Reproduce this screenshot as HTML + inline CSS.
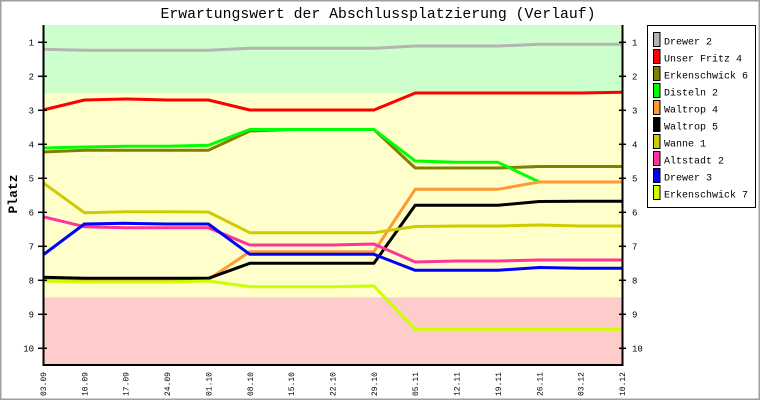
<!DOCTYPE html>
<html><head><meta charset="utf-8"><style>
html,body{margin:0;padding:0;background:#fff;}
svg{display:block;}
text{font-family:"Liberation Mono","DejaVu Sans Mono",monospace;fill:#000;}
</style></head><body>
<svg width="760" height="400" viewBox="0 0 760 400" xmlns="http://www.w3.org/2000/svg">
<rect x="0" y="0" width="760" height="400" fill="#fff"/>
<rect x="0.75" y="0.75" width="758.5" height="398.5" fill="none" stroke="#a0a0a0" stroke-width="1.5"/>
<!-- bands -->
<rect x="43" y="25" width="579" height="68.3" fill="#ccffcc"/>
<rect x="43" y="93.3" width="579" height="204" fill="#ffffcc"/>
<rect x="43" y="297.3" width="579" height="68" fill="#ffcccc"/>
<!-- title -->
<text x="378" y="18" font-size="14.8" text-anchor="middle">Erwartungswert der Abschlussplatzierung (Verlauf)</text>
<!-- series -->
<g fill="none" stroke-width="3" stroke-linejoin="round">
<polyline stroke="#b4b4b4" points="43,49.3 84.4,50.3 125.7,50.3 167.1,50.3 208.4,50.3 249.8,48.3 291.1,48.3 332.5,48.3 373.9,48.3 415.2,46 456.6,46 497.9,46 539.3,44.3 580.6,44.3 622,44.3"/>
<polyline stroke="#ff0000" points="43,110 84.4,100 125.7,99 167.1,100 208.4,100 249.8,110 291.1,110 332.5,110 373.9,110 415.2,93 456.6,93 497.9,93 539.3,93 580.6,93 622,92.3"/>
<polyline stroke="#808000" points="43,152 84.4,150.3 125.7,150.3 167.1,150.3 208.4,150.3 249.8,131 291.1,129.5 332.5,129.5 373.9,129.5 415.2,168 456.6,168 497.9,168 539.3,166.5 580.6,166.5 622,166.5"/>
<polyline stroke="#00ff00" points="43,148 84.4,147 125.7,146.3 167.1,146.3 208.4,145.3 249.8,129.5 291.1,129.5 332.5,129.5 373.9,129.5 415.2,161 456.6,162.3 497.9,162.3 539.3,182 580.6,182 622,182"/>
<polyline stroke="#ff9933" points="43,279.5 84.4,279.5 125.7,279.5 167.1,279.5 208.4,279.5 249.8,251.7 291.1,251.7 332.5,251.7 373.9,251.7 415.2,189.3 456.6,189.3 497.9,189.3 539.3,182 580.6,182 622,182"/>
<polyline stroke="#000000" points="43,277.3 84.4,278.3 125.7,278.3 167.1,278.3 208.4,278.3 249.8,263.3 291.1,263.3 332.5,263.3 373.9,263.3 415.2,205.3 456.6,205.3 497.9,205.3 539.3,201.5 580.6,201.3 622,201.3"/>
<polyline stroke="#cccc00" points="43,182.7 84.4,212.7 125.7,211.7 167.1,211.7 208.4,212 249.8,232.7 291.1,232.7 332.5,232.7 373.9,232.7 415.2,226.5 456.6,226 497.9,226 539.3,225 580.6,226 622,226"/>
<polyline stroke="#ff3399" points="43,216.7 84.4,226.7 125.7,227.7 167.1,227.7 208.4,227.7 249.8,245 291.1,245 332.5,245 373.9,244 415.2,262 456.6,261 497.9,261 539.3,260 580.6,260 622,260"/>
<polyline stroke="#0000ff" points="43,255 84.4,224 125.7,223.3 167.1,224 208.4,224 249.8,254.3 291.1,254.3 332.5,254.3 373.9,254.3 415.2,270.3 456.6,270.3 497.9,270.3 539.3,267.5 580.6,268.3 622,268.3"/>
<polyline stroke="#ccff00" points="43,281 84.4,282 125.7,282 167.1,282 208.4,281 249.8,286.7 291.1,286.7 332.5,286.7 373.9,286 415.2,329.3 456.6,329.3 497.9,329.3 539.3,329.3 580.6,329.3 622,329.3"/>
</g>
<!-- axes -->
<g stroke="#000" fill="none">
<line x1="43.5" y1="25" x2="43.5" y2="366" stroke-width="2"/>
<line x1="622.5" y1="25" x2="622.5" y2="366" stroke-width="2"/>
<line x1="42.5" y1="365" x2="623.5" y2="365" stroke-width="2"/>
<g stroke-width="1.5">
<line x1="38" y1="42.3" x2="47" y2="42.3"/><line x1="619" y1="42.3" x2="626" y2="42.3"/>
<line x1="38" y1="76.3" x2="47" y2="76.3"/><line x1="619" y1="76.3" x2="626" y2="76.3"/>
<line x1="38" y1="110.3" x2="47" y2="110.3"/><line x1="619" y1="110.3" x2="626" y2="110.3"/>
<line x1="38" y1="144.3" x2="47" y2="144.3"/><line x1="619" y1="144.3" x2="626" y2="144.3"/>
<line x1="38" y1="178.3" x2="47" y2="178.3"/><line x1="619" y1="178.3" x2="626" y2="178.3"/>
<line x1="38" y1="212.3" x2="47" y2="212.3"/><line x1="619" y1="212.3" x2="626" y2="212.3"/>
<line x1="38" y1="246.3" x2="47" y2="246.3"/><line x1="619" y1="246.3" x2="626" y2="246.3"/>
<line x1="38" y1="280.3" x2="47" y2="280.3"/><line x1="619" y1="280.3" x2="626" y2="280.3"/>
<line x1="38" y1="314.3" x2="47" y2="314.3"/><line x1="619" y1="314.3" x2="626" y2="314.3"/>
<line x1="38" y1="348.3" x2="47" y2="348.3"/><line x1="619" y1="348.3" x2="626" y2="348.3"/>
</g>
</g>
<!-- y labels -->
<g font-size="9" text-anchor="end">
<text x="34" y="45.5">1</text><text x="34" y="79.5">2</text><text x="34" y="113.5">3</text><text x="34" y="147.5">4</text><text x="34" y="181.5">5</text><text x="34" y="215.5">6</text><text x="34" y="249.5">7</text><text x="34" y="283.5">8</text><text x="34" y="317.5">9</text><text x="34" y="351.5">10</text>
</g>
<g font-size="9">
<text x="632" y="45.5">1</text><text x="632" y="79.5">2</text><text x="632" y="113.5">3</text><text x="632" y="147.5">4</text><text x="632" y="181.5">5</text><text x="632" y="215.5">6</text><text x="632" y="249.5">7</text><text x="632" y="283.5">8</text><text x="632" y="317.5">9</text><text x="632" y="351.5">10</text>
</g>
<text transform="translate(17,194) rotate(-90)" font-size="13" font-weight="bold" text-anchor="middle">Platz</text>
<!-- x labels -->
<g font-size="8" text-anchor="end">
<text transform="translate(46,372) rotate(-90)">03.09</text>
<text transform="translate(87.4,372) rotate(-90)">10.09</text>
<text transform="translate(128.7,372) rotate(-90)">17.09</text>
<text transform="translate(170.1,372) rotate(-90)">24.09</text>
<text transform="translate(211.4,372) rotate(-90)">01.10</text>
<text transform="translate(252.8,372) rotate(-90)">08.10</text>
<text transform="translate(294.1,372) rotate(-90)">15.10</text>
<text transform="translate(335.5,372) rotate(-90)">22.10</text>
<text transform="translate(376.9,372) rotate(-90)">29.10</text>
<text transform="translate(418.2,372) rotate(-90)">05.11</text>
<text transform="translate(459.6,372) rotate(-90)">12.11</text>
<text transform="translate(500.9,372) rotate(-90)">19.11</text>
<text transform="translate(542.3,372) rotate(-90)">26.11</text>
<text transform="translate(583.6,372) rotate(-90)">03.12</text>
<text transform="translate(625,372) rotate(-90)">10.12</text>
</g>
<!-- legend -->
<rect x="647.5" y="25.5" width="108" height="182" fill="#fff" stroke="#000" stroke-width="1"/>
<g stroke="#000" stroke-width="1">
<rect x="653.5" y="32.5" width="6.5" height="14" fill="#b4b4b4"/>
<rect x="653.5" y="49.5" width="6.5" height="14" fill="#ff0000"/>
<rect x="653.5" y="66.5" width="6.5" height="14" fill="#808000"/>
<rect x="653.5" y="83.5" width="6.5" height="14" fill="#00ff00"/>
<rect x="653.5" y="100.5" width="6.5" height="14" fill="#ff9933"/>
<rect x="653.5" y="117.5" width="6.5" height="14" fill="#000000"/>
<rect x="653.5" y="134.5" width="6.5" height="14" fill="#cccc00"/>
<rect x="653.5" y="151.5" width="6.5" height="14" fill="#ff3399"/>
<rect x="653.5" y="168.5" width="6.5" height="14" fill="#0000ff"/>
<rect x="653.5" y="185.5" width="6.5" height="14" fill="#ccff00"/>
</g>
<g font-size="10">
<text x="664" y="44.5">Drewer 2</text>
<text x="664" y="61.5">Unser Fritz 4</text>
<text x="664" y="78.5">Erkenschwick 6</text>
<text x="664" y="95.5">Disteln 2</text>
<text x="664" y="112.5">Waltrop 4</text>
<text x="664" y="129.5">Waltrop 5</text>
<text x="664" y="146.5">Wanne 1</text>
<text x="664" y="163.5">Altstadt 2</text>
<text x="664" y="180.5">Drewer 3</text>
<text x="664" y="197.5">Erkenschwick 7</text>
</g>
</svg>
</body></html>
